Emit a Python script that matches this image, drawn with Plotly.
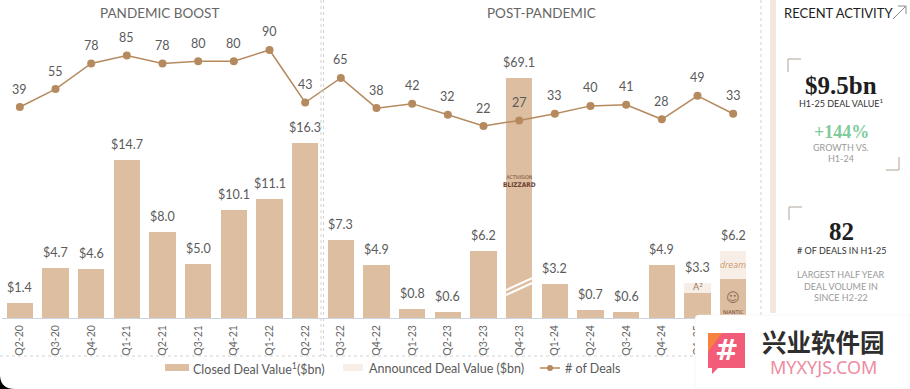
import plotly.graph_objects as go

W, H = 910, 389

quarters = ["Q2-20", "Q3-20", "Q4-20", "Q1-21", "Q2-21", "Q3-21", "Q4-21", "Q1-22", "Q2-22",
            "Q3-22", "Q4-22", "Q1-23", "Q2-23", "Q3-23", "Q4-23", "Q1-24", "Q2-24", "Q3-24",
            "Q4-24", "Q1-25", "Q2-25"]
closed_value = [1.4, 4.7, 4.6, 14.7, 8.0, 5.0, 10.1, 11.1, 16.3,
                7.3, 4.9, 0.8, 0.6, 6.2, 69.1, 3.2, 0.7, 0.6,
                4.9, 2.3, 3.6]
announced_value = [0, 0, 0, 0, 0, 0, 0, 0, 0,
                   0, 0, 0, 0, 0, 0, 0, 0, 0,
                   0, 1.0, 2.6]
deal_count = [39, 55, 78, 85, 78, 80, 80, 90, 43,
              65, 38, 42, 32, 22, 27, 33, 40, 41,
              28, 49, 33]

BAR_C = "#DDBEA1"
ANN_C = "#F6EEE7"
LINE_C = "#B58A5E"
TXT_C = "#5A5A5A"
FONT = "Lato"

def xp(px):
    return px / W

def yp(py):
    return 1 - py / H

# axis geometry (pixels)
BASE = 318
BAR_TOP = 78
PX_PER_BN = 10.74
Y1_MAX = (BASE - BAR_TOP) / PX_PER_BN
D0, DK = 150.6, 1.118
Y2_TOP_PX = 10
y2_range = [(D0 - BASE) / DK, (D0 - Y2_TOP_PX) / DK]

fig = go.Figure()
fig.add_trace(go.Bar(x=quarters, y=closed_value, marker_color=BAR_C, width=0.73,
                     name="Closed Deal Value", yaxis="y", showlegend=False,
                     marker_line_width=0))
fig.add_trace(go.Bar(x=quarters, y=announced_value, marker_color=ANN_C, width=0.73,
                     name="Announced Deal Value", yaxis="y", showlegend=False,
                     marker_line_width=0))
fig.add_trace(go.Scatter(x=quarters, y=deal_count, mode="lines+markers", yaxis="y2",
                         line=dict(color=LINE_C, width=1.5),
                         marker=dict(color=LINE_C, size=8),
                         cliponaxis=False, showlegend=False, name="# of Deals"))

ann = []
shapes = []

def A(**kw):
    kw.setdefault("showarrow", False)
    kw.setdefault("xanchor", "center")
    kw.setdefault("yanchor", "middle")
    ann.append(kw)

# bar value labels
for q, c, a in zip(quarters, closed_value, announced_value):
    tot = c + a
    A(x=q, y=min(tot, Y1_MAX), xref="x", yref="y", text=f"${tot:.1f}",
      yanchor="bottom", yshift=6, font=dict(family=FONT, size=12.5, color=TXT_C))
# deal labels
for q, d in zip(quarters, deal_count):
    A(x=q, y=d, xref="x", yref="y2", text=str(d), yshift=18,
      font=dict(family=FONT, size=12.5, color=TXT_C))

# axis-break marks on Q4-23 bar
for y0, y1 in [(2.6, 3.72), (2.14, 3.26)]:
    shapes.append(dict(type="line", xref="x", yref="y", x0=13.635, x1=14.365, y0=y0, y1=y1,
                       line=dict(color="white", width=2)))

# logos (as text)
A(x="Q4-23", y=12.75, xref="x", yref="y",
  text="<span style='font-size:5px'>ACTIVISION</span><br><b>BLIZZARD</b>",
  font=dict(family="DejaVu Sans Condensed", size=6.5, color="#6E4234"))
A(x="Q2-25", y=4.85, xref="x", yref="y", text="<i>dream</i>",
  font=dict(family="DejaVu Sans", size=8, color="#CF9A6C"))
A(x="Q2-25", y=0.55, xref="x", yref="y", text="NIANTIC",
  font=dict(family="DejaVu Sans", size=5, color="#6E4234"))
A(x="Q2-25", y=1.9, xref="x", yref="y", text="☺",
  font=dict(family="DejaVu Sans", size=13, color="#8A6A55"))
A(x="Q1-25", y=2.85, xref="x", yref="y", text="A²",
  font=dict(family="DejaVu Sans", size=9, color="#9A7A66"))

# section titles
A(x=xp(159), y=yp(13), xref="paper", yref="paper", text="PANDEMIC BOOST",
  font=dict(family=FONT, size=13.5, color="#666666"))
A(x=xp(541), y=yp(13), xref="paper", yref="paper", text="POST-PANDEMIC",
  font=dict(family=FONT, size=13.5, color="#666666"))

# dividers
DOT = dict(color="#D2D2D2", width=1, dash="dot")
for x in (321, 323.5):
    shapes.append(dict(type="line", xref="paper", yref="paper", x0=xp(x), x1=xp(x),
                       y0=yp(0), y1=yp(356), line=DOT))
shapes.append(dict(type="line", xref="paper", yref="paper", x0=xp(761), x1=xp(761),
                   y0=yp(0), y1=yp(356), line=DOT))
shapes.append(dict(type="line", xref="paper", yref="paper", x0=xp(0), x1=xp(761),
                   y0=yp(356), y1=yp(356), line=DOT))

# legend
LF = dict(family=FONT, size=12.5, color=TXT_C)
shapes.append(dict(type="rect", xref="paper", yref="paper", x0=xp(165), x1=xp(189),
                   y0=yp(371), y1=yp(364), fillcolor=BAR_C, line_width=0))
A(x=xp(191), y=yp(368), xref="paper", yref="paper", xanchor="left",
  text="Closed Deal Value<sup>1</sup>($bn)", font=LF)
shapes.append(dict(type="rect", xref="paper", yref="paper", x0=xp(343), x1=xp(363),
                   y0=yp(371), y1=yp(364), fillcolor=ANN_C, line_width=0))
A(x=xp(367), y=yp(368), xref="paper", yref="paper", xanchor="left",
  text="Announced Deal Value ($bn)", font=LF)
shapes.append(dict(type="line", xref="paper", yref="paper", x0=xp(540), x1=xp(560),
                   y0=yp(368), y1=yp(368), line=dict(color=LINE_C, width=1.5)))
shapes.append(dict(type="circle", xref="paper", yref="paper", x0=xp(547), x1=xp(553),
                   y0=yp(371), y1=yp(365), fillcolor=LINE_C, line_width=0))
A(x=xp(563), y=yp(368), xref="paper", yref="paper", xanchor="left",
  text="# of Deals", font=LF)

# right panel
shapes.append(dict(type="rect", xref="paper", yref="paper", x0=xp(770), x1=xp(776),
                   y0=yp(313), y1=yp(0), fillcolor="#F3E8DE", line_width=0))
A(x=xp(782), y=yp(13), xref="paper", yref="paper", xanchor="left",
  text="RECENT ACTIVITY", font=dict(family=FONT, size=13, color="#1E1E1E"))
ARR = dict(color="#8A8A8A", width=1)
shapes.append(dict(type="line", xref="paper", yref="paper", x0=xp(893), x1=xp(906),
                   y0=yp(19), y1=yp(6), line=ARR))
shapes.append(dict(type="line", xref="paper", yref="paper", x0=xp(898), x1=xp(906),
                   y0=yp(6), y1=yp(6), line=ARR))
shapes.append(dict(type="line", xref="paper", yref="paper", x0=xp(906), x1=xp(906),
                   y0=yp(6), y1=yp(14), line=ARR))
BR = dict(color="#BDB3AA", width=1.2)
for (bx, by) in [(788, 59), (789, 207)]:
    shapes.append(dict(type="line", xref="paper", yref="paper", x0=xp(bx), x1=xp(bx),
                       y0=yp(by), y1=yp(by + 13), line=BR))
    shapes.append(dict(type="line", xref="paper", yref="paper", x0=xp(bx), x1=xp(bx + 13),
                       y0=yp(by), y1=yp(by), line=BR))
shapes.append(dict(type="line", xref="paper", yref="paper", x0=xp(899), x1=xp(899),
                   y0=yp(157), y1=yp(170), line=BR))
shapes.append(dict(type="line", xref="paper", yref="paper", x0=xp(886), x1=xp(899),
                   y0=yp(170), y1=yp(170), line=BR))

PC = xp(841)
def ptxt(y, text, size, color, family=FONT):
    A(x=PC, y=yp(y), xref="paper", yref="paper", text=text,
      font=dict(family=family, size=size, color=color))

ptxt(85, "<b>$9.5bn</b>", 25, "#1E1E1E", "Liberation Serif")
ptxt(103, "H1-25 DEAL VALUE<sup>1</sup>", 9, "#333333")
ptxt(132, "<b>+144%</b>", 18, "#7FCB9C", "Liberation Serif")
ptxt(147, "GROWTH VS.", 9, "#9A9A9A")
ptxt(158, "H1-24", 9, "#9A9A9A")
ptxt(231, "<b>82</b>", 25, "#1E1E1E", "Liberation Serif")
ptxt(250, "# OF DEALS IN H1-25", 9, "#333333")
ptxt(274, "LARGEST HALF YEAR", 9, "#9A9A9A")
ptxt(286, "DEAL VOLUME IN", 9, "#9A9A9A")
ptxt(297, "SINCE H2-22", 9, "#9A9A9A")

# watermark
shapes.append(dict(type="path", xref="paper", yref="paper", layer="above",
                   path=f"M {xp(695)},{yp(389)} L {xp(695)},{yp(319)} Q {xp(695)},{yp(315)} {xp(699)},{yp(315)} "
                        f"L {xp(910)},{yp(315)} L {xp(910)},{yp(389)} Z",
                   fillcolor="white", line=dict(color="#EEEEEE", width=0.5)))
shapes.append(dict(type="path", xref="paper", yref="paper", layer="above",
                   path=f"M {xp(708)},{yp(333)} L {xp(745)},{yp(333)} L {xp(745)},{yp(368)} "
                        f"L {xp(718)},{yp(368)} L {xp(712)},{yp(374)} L {xp(712)},{yp(368)} L {xp(708)},{yp(368)} Z",
                   fillcolor="#F25C78", line_width=0))
shapes.append(dict(type="path", xref="paper", yref="paper", layer="above",
                   path=f"M {xp(708)},{yp(333)} L {xp(722)},{yp(333)} L {xp(708)},{yp(352)} Z",
                   fillcolor="#F7813F", line_width=0))
A(x=xp(726.5), y=yp(350), xref="paper", yref="paper", text="<b>#</b>",
  font=dict(family="DejaVu Sans", size=28, color="white"))
A(x=xp(823), y=yp(341), xref="paper", yref="paper", text="<b>兴业软件园</b>",
  font=dict(family="Noto Sans CJK SC", size=24.5, color="#2E2E2E"))
A(x=xp(823), y=yp(367), xref="paper", yref="paper", text="MYXYJS.COM",
  font=dict(family="Noto Sans", size=18, color="#EE8CA2"))

# black rounded-corner artifact bottom-left
shapes.append(dict(type="path", xref="paper", yref="paper", layer="above",
                   path=f"M {xp(0)},{yp(376)} Q {xp(1)},{yp(389)} {xp(15)},{yp(389)} L {xp(0)},{yp(389)} Z",
                   fillcolor="black", line_width=0))

fig.update_layout(
    width=W, height=H,
    margin=dict(l=0, r=0, t=0, b=0),
    paper_bgcolor="white", plot_bgcolor="rgba(0,0,0,0)",
    barmode="stack", bargap=0,
    xaxis=dict(domain=[xp(2), xp(751)], range=[-0.5, 20.5], type="category",
               anchor="y", showgrid=False, zeroline=False, automargin=False,
               showline=True, linecolor="#CBD4E0", linewidth=1,
               tickangle=-90, ticks="", ticklabelstandoff=2,
               tickfont=dict(family=FONT, size=10.5, color="#666666")),
    yaxis=dict(domain=[yp(BASE), yp(BAR_TOP)], range=[0, Y1_MAX], visible=False,
               anchor="x", automargin=False),
    yaxis2=dict(domain=[yp(BASE), yp(Y2_TOP_PX)], range=y2_range, visible=False,
                anchor="x", automargin=False),
    annotations=ann, shapes=shapes,
    showlegend=False,
)

fig.write_html("out.html",
               config={"displayModeBar": False},
               post_script="document.body.style.margin='0';document.body.style.overflow='hidden';"
                           "document.documentElement.style.overflow='hidden';")
